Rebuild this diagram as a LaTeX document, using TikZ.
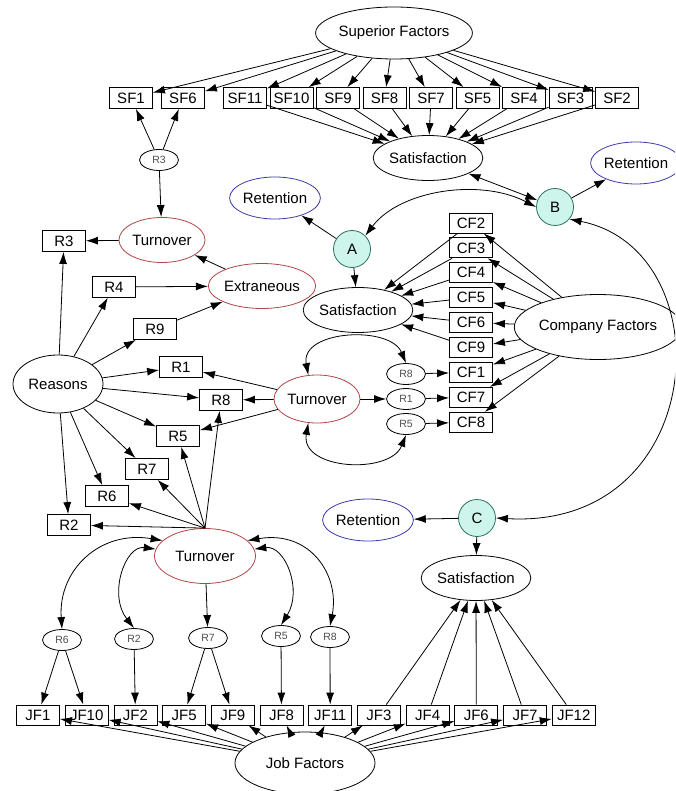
\documentclass[tikz,border=0pt]{standalone}
\usepackage{fontspec}
\setmainfont{Liberation Sans}
\usetikzlibrary{arrows.meta, shapes.geometric}

\definecolor{turnred}{RGB}{175,70,70}
\definecolor{retblue}{RGB}{60,60,170}
\definecolor{hubfill}{RGB}{205,245,235}
\definecolor{hubdraw}{RGB}{45,115,95}

\begin{document}
\begin{tikzpicture}[x = 1pt, y = -1pt, line width = 0.8pt,
        font = \fontsize{15}{17}\selectfont,
        >={Latex[length = 12pt, width = 8pt]},
        fbox/.style = {draw, minimum width = 43pt, minimum height = 21pt, inner sep = 0pt},
        oval/.style = {draw, ellipse, inner sep = 0pt},
        rsmall/.style = {oval, minimum width = 39pt, minimum height = 21pt, text = black!70, font = \fontsize{10.5}{12}\selectfont},
        turn/.style = {oval, draw = turnred},
        ret/.style = {oval, draw = retblue, minimum width = 84pt, minimum height = 42pt},
        sat/.style = {oval, minimum width = 84pt, minimum height = 45pt},
        hub/.style = {draw = hubdraw, fill = hubfill, circle, minimum size = 37pt, inner sep = 0pt}]
        \useasboundingbox (0, 0) rectangle (675, 791);
        \clip (0, 0) rectangle (675, 791);

        % factor groups
        \node[oval, minimum width = 124pt, minimum height = 52pt] (supf) at (394, 33) {Superior Factors};
        \node[oval, minimum width = 143pt, minimum height = 65pt] (compf) at (598, 327) {Company Factors};
        \node[oval, minimum width = 140pt, minimum height = 62pt] (jobf) at (305, 763) {Job Factors};
        \node[oval, minimum width = 90pt, minimum height = 58pt] (reasons) at (58, 384) {Reasons};

        % satisfaction, retention, hubs
        \node[sat] (sat1) at (428, 158) {Satisfaction};
        \node[sat] (satA) at (358, 310) {Satisfaction};
        \node[sat] (satC) at (476, 578) {Satisfaction};
        \node[ret] (retA) at (275, 198) {Retention};
        \node[ret] (retB) at (636, 163) {Retention};
        \node[ret] (retC) at (368, 520) {Retention};
        \node[hub] (A) at (352, 249) {A};
        \node[hub] (B) at (555, 207) {B};
        \node[hub] (C) at (477, 518) {C};

        % turnover
        \node[turn, minimum width = 86pt, minimum height = 45pt] (turnT) at (162, 240) {Turnover};
        \node[turn, minimum width = 86pt, minimum height = 48pt] (turnM) at (317, 399) {Turnover};
        \node[turn, minimum width = 101pt, minimum height = 55pt] (turnB) at (205, 556) {Turnover};
        \node[turn, minimum width = 82pt, minimum height = 45pt] (extr) at (262, 286) {Extraneous};

        % small reason ovals
        \node[rsmall] (rsT) at (159, 160) {R3};
        \foreach \n/\ypos in {8/374, 1/399, 5/424} {
            \node[rsmall] (rs\n) at (406, \ypos) {R\n};
        }
        \foreach \n/\xpos/\ypos in {6/62/640, 2/134/639, 7/208/638, 5/281/636, 8/330/637} {
            \node[rsmall] (rb\n) at (\xpos, \ypos) {R\n};
        }

        % boxes
        \node[fbox] (sf1) at (131, 98) {SF1};
        \node[fbox] (sf6) at (183, 98) {SF6};
        \foreach \n [count = \i] in {11, 10, 9, 8, 7, 5, 4, 3, 2} {
            \pgfmathsetmacro{\xpos}{245 + 46.5 * (\i - 1)}
            \node[fbox] (sf\n) at (\xpos, 98) {SF\n};
        }
        \foreach \n [count = \i] in {2, 3, 4, 5, 6, 9, 1, 7, 8} {
            \pgfmathsetmacro{\ypos}{223 + 24.9 * (\i - 1)}
            \node[fbox, minimum height = 20pt] (cf\n) at (471, \ypos) {CF\n};
        }
        \foreach \n [count = \i] in {1, 10, 2, 5, 9, 8, 11, 3, 4, 6, 7, 12} {
            \pgfmathsetmacro{\xpos}{38 + 48.7 * (\i - 1)}
            \node[fbox, minimum height = 20pt] (jf\n) at (\xpos, 715) {JF\n};
        }
        \foreach \n/\xpos/\ypos in {3/64/241, 4/114/287, 9/155/329, 1/181/367, 8/221/400, 5/178/436, 7/147/469, 6/107/496, 2/69/525} {
            \node[fbox] (r\n) at (\xpos, \ypos) {R\n};
        }

        % superior factors
        \foreach \n in {1, 6, 11, 10, 9, 8, 7, 5, 4, 3, 2} {
            \draw[->] (supf) -- (sf\n);
        }
        \foreach \n in {11, 10, 9, 8, 7, 5, 4, 3, 2} {
            \draw[->] (sf\n) -- (sat1);
        }
        \draw[->] (rsT) -- (sf1);
        \draw[->] (rsT) -- (sf6);
        \draw[->] (rsT) -- (turnT);
        \draw[->] (turnT) -- (r3);
        \draw[->] (extr) -- (turnT);
        \draw[->] (r4) -- (extr);
        \draw[->] (r9) -- (extr);

        % reasons
        \foreach \n in {3, 4, 9, 1, 8, 5, 7, 6, 2} {
            \draw[->] (reasons) -- (r\n);
        }
        \foreach \n in {1, 8, 5} {
            \draw[->] (turnM) -- (r\n);
        }
        \draw[->] (turnM) -- (rs1);
        \draw[<->] (turnM.110) .. controls (300, 330) and (390, 325) .. (rs8.north);
        \draw[<->] (turnM.250) .. controls (300, 470) and (390, 475) .. (rs5.south);
        \draw[->] (rs8) -- (cf1);
        \draw[->] (rs1) -- (cf7);
        \draw[->] (rs5) -- (cf8);

        % company factors
        \foreach \n in {2, 3, 4, 5, 6, 9, 1, 7, 8} {
            \draw[->] (compf) -- (cf\n);
        }
        \foreach \n in {2, 3, 4, 5, 6, 9} {
            \draw[->] (cf\n) -- (satA);
        }

        % hubs
        \draw[->] (A) -- (satA);
        \draw[->] (A) -- (retA);
        \draw[<->] (A.45) .. controls (400, 190) and (480, 178) .. (B.west);
        \draw[<->] (sat1) -- (B);
        \draw[->] (B) -- (retB);
        \draw[<->] (B.-40) .. controls (725, 250) and (710, 530) .. (C.east);
        \draw[->] (C) -- (retC);
        \draw[->] (C) -- (satC);

        % bottom turnover
        \foreach \n in {2, 6, 7, 5, 8} {
            \draw[->] (turnB.north) -- (r\n);
        }
        \draw[->] (turnB) -- (rb7);
        \draw[<->] (turnB.160) .. controls (100, 530) and (58, 570) .. (rb6.north);
        \draw[<->] (turnB.172) .. controls (125, 545) and (108, 595) .. (rb2.north);
        \draw[<->] (turnB.8) .. controls (285, 545) and (303, 590) .. (rb5.north);
        \draw[<->] (turnB.20) .. controls (310, 530) and (340, 575) .. (rb8.north);
        \draw[->] (rb6) -- (jf1);
        \draw[->] (rb6) -- (jf10);
        \draw[->] (rb2) -- (jf2);
        \draw[->] (rb7) -- (jf5);
        \draw[->] (rb7) -- (jf9);
        \draw[->] (rb5) -- (jf8);
        \draw[->] (rb8) -- (jf11);

        % job factors
        \foreach \n in {1, 10, 2, 5, 9, 8, 11, 3, 4, 6, 7, 12} {
            \draw[->] (jobf) -- (jf\n);
        }
        \foreach \n in {3, 4, 6, 7, 12} {
            \draw[->] (jf\n) -- (satC);
        }
    \end{tikzpicture}
\end{document}
